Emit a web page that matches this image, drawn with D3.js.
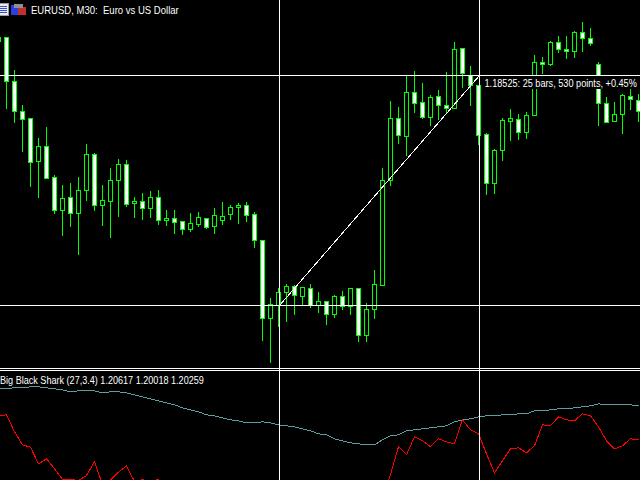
<!DOCTYPE html>
<html><head><meta charset="utf-8">
<style>html,body{margin:0;padding:0;background:#000;overflow:hidden}svg{display:block}text{font-family:"Liberation Sans",sans-serif;fill:#fff;white-space:pre}</style>
<script src="https://cdn.jsdelivr.net/npm/d3@7"></script>
</head><body><svg id="c" width="640" height="480"></svg>
<script>
// EURUSD M30 prices, in points (1 point = 0.00001), first bar index is -1
const opens=[18615,18615,18514,18445,18429,18330,18364,18293,18217,18247,18210,18263,18346,18228,18238,18286,18323,18233,18238,18222,18247,18194,18199,18192,18173,18185,18199,18180,18194,18208,18224,18228,18208,18148,17969,17998,18028,18042,18019,18038,17998,18008,17978,18019,17996,18038,17930,17989,18044,18286,18429,18387,18488,18465,18431,18479,18458,18452,18590,18527,18504,18392,18279,18355,18422,18426,18396,18435,18557,18553,18603,18587,18583,18626,18613,18553,18463,18422,18438,18479,18470];
const highs=[18615,18615,18539,18459,18429,18383,18408,18297,18274,18279,18293,18369,18348,18274,18314,18334,18332,18247,18256,18261,18263,18217,18217,18192,18210,18212,18199,18222,18235,18228,18233,18235,18212,18148,18015,18038,18047,18044,18040,18047,18028,18008,18021,18031,18038,18038,18003,18079,18314,18468,18454,18525,18537,18509,18481,18493,18534,18603,18590,18548,18504,18394,18357,18429,18449,18438,18442,18573,18569,18606,18617,18617,18629,18649,18636,18557,18477,18465,18484,18498,18484];
const lows=[18606,18452,18419,18353,18272,18247,18291,18210,18159,18180,18116,18240,18217,18182,18155,18203,18226,18201,18196,18201,18185,18182,18164,18162,18169,18180,18176,18164,18185,18196,18187,18192,18132,17918,17867,17950,17962,17978,17998,17994,17982,17955,17971,17989,17978,17916,17916,17969,18044,18274,18371,18343,18442,18429,18412,18426,18440,18452,18500,18458,18369,18254,18256,18332,18378,18380,18383,18435,18532,18550,18580,18567,18569,18583,18596,18412,18419,18422,18394,18449,18422];
const closes=[18606,18514,18445,18426,18327,18364,18291,18217,18245,18210,18263,18346,18228,18240,18286,18323,18231,18238,18222,18247,18194,18199,18189,18173,18187,18201,18178,18205,18203,18224,18228,18205,18148,17969,18001,18028,18042,18021,18040,17998,18008,17978,18019,17996,18038,17930,17989,18047,18286,18429,18389,18488,18463,18431,18477,18458,18452,18587,18532,18504,18389,18279,18355,18424,18429,18396,18435,18557,18553,18603,18587,18583,18626,18613,18601,18463,18419,18438,18481,18472,18445];
// Indicator pane values, in pane units; null = below the visible pane
const teal=[91.7,92,92.7,92.7,93.7,93.7,92.7,91.7,90.7,88.7,89.7,89.7,89.7,87.7,88.7,88.7,87.7,85.7,83.7,81.7,79.7,77.7,75.7,72.7,70.7,68.7,65.7,64.7,62.7,60.7,59.7,57.7,57.7,58.7,57.7,55.7,54.7,53.7,51.7,49.7,46.7,45.7,41.7,39.7,37.7,36.7,35.7,35.7,40.7,44.7,45.7,49.7,50.7,51.7,52.7,53.7,54.7,58.7,60.7,61.7,63.7,64.7,64.7,65.7,65.7,66.7,66.7,69.7,69.7,70.7,71.7,71.7,72.7,73.7,74.7,76.7,75.7,75.7,75.7,75.7,74.7];
const red=[64.7,65.7,48.7,35.7,33.3,16.7,21.7,11.7,1,1.3,0,5,18.7,-4,0.7,8.3,14.7,-1,0.7,-1,1.3,-8,null,null,null,null,null,null,null,null,null,null,null,null,null,null,null,null,null,null,null,null,null,null,null,null,null,null,-20,6,33.7,25.7,43.7,39.7,33.7,41.7,38.7,36.7,60.7,50.7,46.7,26.7,7.7,19.7,31.7,32.7,27.7,34.7,55.7,54.7,63.7,60.7,59.7,66.7,64.7,53.7,39.7,31.7,34.7,41.7,40.7];
// Text
const titleText="EURUSD, M30:  Euro vs US Dollar";
const rulerText="1.18525: 25 bars, 530 points, +0.45%";
const paneText="Big Black Shark (27,3.4) 1.20617 1.20018 1.20259";
// Ruler anchors: [bar index, price in points]
const rulerStart=[34.125,17999];
const rulerEnd=[59.125,18527];

const svg=d3.select("#c");
svg.append("rect").attr("width",640).attr("height",480).attr("fill","#000");
const x=d3.scaleLinear().domain([-1,79]).range([-2,638]);
const y=d3.scaleLinear().domain([18700,18700-2.3*368]).range([0,368]);
const yi=d3.scaleLinear().domain([0,110]).range([480,370]);
const px=v=>Math.round(v)+.5;
const bars=d3.range(opens.length);
const g=svg.append("g").attr("shape-rendering","crispEdges");
g.selectAll("line.w").data(bars).join("line").attr("class","w")
 .attr("x1",i=>px(x(i-1))).attr("x2",i=>px(x(i-1)))
 .attr("y1",i=>Math.round(y(highs[i]))).attr("y2",i=>Math.round(y(lows[i]))+1)
 .attr("stroke","#00ff00");
g.selectAll("rect.b").data(bars).join("rect").attr("class","b")
 .attr("x",i=>px(x(i-1))-2).attr("width",4)
 .attr("y",i=>px(y(Math.max(opens[i],closes[i]))))
 .attr("height",i=>Math.max(1,Math.round(y(Math.min(opens[i],closes[i])))-Math.round(y(Math.max(opens[i],closes[i])))))
 .attr("fill",i=>closes[i]<opens[i]?"#fff":"#000").attr("stroke","#00ff00");
// Ruler label background, then crosshair lines
svg.append("rect").attr("x",481).attr("y",76).attr("width",159).attr("height",13).attr("fill","#000");
const over=svg.append("g").attr("shape-rendering","crispEdges").attr("stroke","#fff");
const sx=px(x(rulerStart[0])),ex=px(x(rulerEnd[0])),sy=px(y(rulerStart[1])),ey=px(y(rulerEnd[1]));
over.append("line").attr("x1",0).attr("x2",640).attr("y1",ey).attr("y2",ey);
over.append("line").attr("x1",0).attr("x2",640).attr("y1",sy).attr("y2",sy);
over.append("line").attr("x1",sx).attr("x2",ex).attr("y1",sy).attr("y2",ey);
// Indicator pane
svg.append("rect").attr("x",0).attr("y",369).attr("width",640).attr("height",111).attr("fill","#000");
const line=d3.line().defined(d=>d!==null).x((d,i)=>x(i-1)+.5).y(d=>yi(d)+.5);
const pane=svg.append("g").attr("shape-rendering","crispEdges").attr("fill","none");
pane.append("path").attr("d",line(teal)).attr("stroke","#5f9ea0");
pane.append("path").attr("d",line(red)).attr("stroke","#ff0000");
const sep=svg.append("g").attr("shape-rendering","crispEdges").attr("stroke","#fff");
sep.append("line").attr("x1",0).attr("x2",640).attr("y1",368.5).attr("y2",368.5);
sep.append("line").attr("x1",0).attr("x2",640).attr("y1",370.5).attr("y2",370.5);
sep.append("line").attr("x1",sx).attr("x2",sx).attr("y1",0).attr("y2",480);
sep.append("line").attr("x1",ex).attr("x2",ex).attr("y1",0).attr("y2",480);
// Header icons
const ic=svg.append("g").attr("shape-rendering","crispEdges");
ic.append("rect").attr("x",-1).attr("y",3).attr("width",9).attr("height",12).attr("fill","#e8e8f0").attr("stroke","#9a9a9a").attr("stroke-width",1);
d3.range(4).forEach(k=>ic.append("rect").attr("x",0).attr("y",6+k*2).attr("width",7).attr("height",1).attr("fill","#3a4fc0"));
ic.append("rect").attr("x",11).attr("y",5).attr("width",7).attr("height",10).attr("fill","#2a3fe0");
ic.append("rect").attr("x",18).attr("y",7).attr("width",8).attr("height",8).attr("fill","#c03030");
ic.append("rect").attr("x",14).attr("y",4).attr("width",9).attr("height",4).attr("fill","#909090");
// Labels: 11px glyphs, narrowed horizontally to the reference's run length
const label=(tx,ty,t,len)=>{
  const n=svg.append("text").attr("font-size",11).text(t);
  const k=len/n.node().getComputedTextLength();
  n.attr("transform",`translate(${tx},${ty}) scale(${k},1)`);
};
label(31,14,titleText,148);
label(484.5,87,rulerText,152.5);
label(0,384,paneText,204);
</script></body></html>
